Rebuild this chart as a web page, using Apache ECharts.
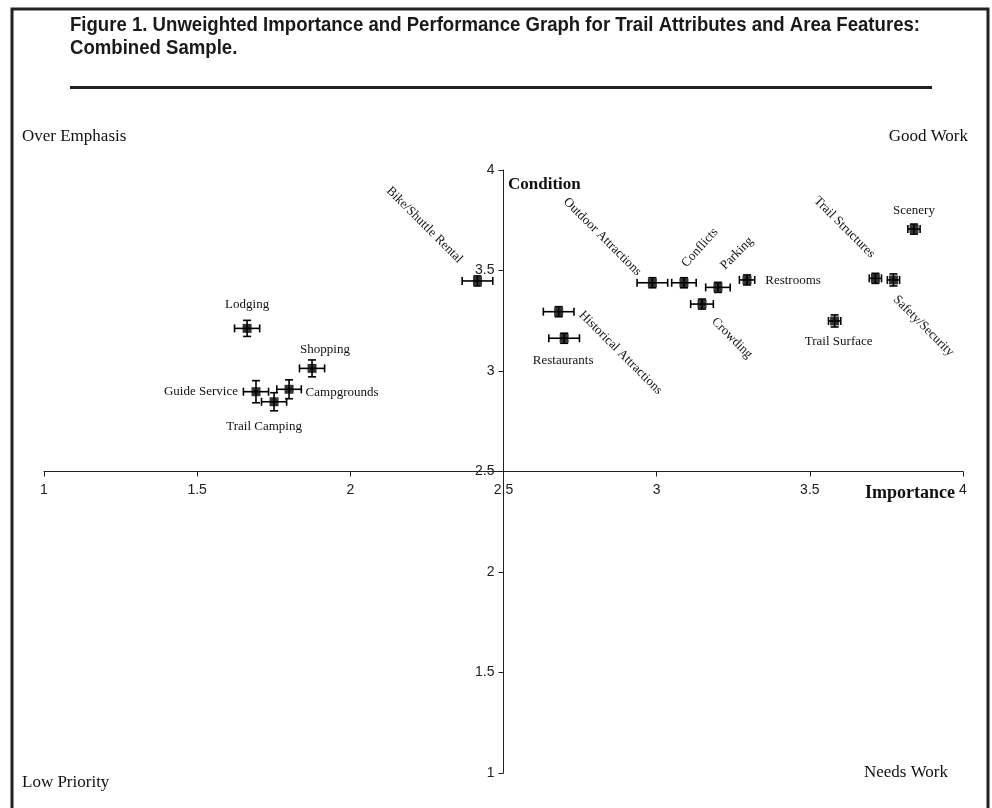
<!DOCTYPE html>
<html><head><meta charset="utf-8">
<script src="https://cdn.jsdelivr.net/npm/echarts@6/dist/echarts.min.js"></script>
<style>html,body{margin:0;padding:0;background:#fff}#c{width:992px;height:808px}</style>
</head><body><div id="c"></div>
<script>
// ---- data ----
const names = ['Lodging','Shopping','Guide Service','Campgrounds','Trail Camping','Bike/Shuttle Rental','Historical Attractions','Restaurants','Outdoor Attractions','Conflicts','Parking','Crowding','Restrooms','Trail Surface','Trail Structures','Safety/Security','Scenery'];
const importance    = [1.663,1.875,1.692,1.800,1.751,2.415,2.680,2.698,2.986,3.089,3.200,3.148,3.295,3.581,3.714,3.773,3.840];
const condition     = [3.212,3.013,2.897,2.909,2.847,3.448,3.295,3.163,3.439,3.439,3.416,3.333,3.453,3.249,3.461,3.453,3.706];
const importanceErr = [0.041,0.041,0.041,0.040,0.041,0.050,0.050,0.050,0.050,0.040,0.040,0.037,0.025,0.020,0.020,0.020,0.020];
const conditionErr  = [0.040,0.042,0.055,0.047,0.045,0.025,0.025,0.025,0.025,0.025,0.025,0.025,0.025,0.030,0.025,0.030,0.025];
const axisMin = 1, axisMax = 4, axisStep = 0.5;
const axisCross = 2.5; // both axes cross at 2.5
const titleLines = ['Figure 1. Unweighted Importance and Performance Graph for Trail Attributes and Area Features:', 'Combined Sample.'];
const quadrantLabels = ['Over Emphasis','Good Work','Low Priority','Needs Work'];
const xAxisName = 'Importance', yAxisName = 'Condition';

// ---- layout ----
const G = {left:44, right:29, top:170, bottom:35, W:992, H:808};
const gridW = G.W - G.left - G.right, gridH = G.H - G.top - G.bottom;
const frac = (axisCross - axisMin) / (axisMax - axisMin);
const yAxisOffset = -gridW * frac;        // move y axis right to x = axisCross
const xAxisOffset = -gridH * frac;        // move x axis up to y = axisCross

// label offsets from marker (px) and rotation (deg)
const labelLayout = [
  [0,-24,0],[13,-19,0],[-55,0,0],[53,3,0],[-10,25,0],
  [-53,-56,-45],[62,41,-45],[-1,22,0],[-50,-46,-45],
  [16,-35,48],[19,-34,45],[30,34,-45],[46,1,0],
  [4,21,0],[-31,-51,-45],[30,46,-45],[0,-19,0]
];

const pts = names.map((n,i)=>[importance[i], condition[i], importanceErr[i], conditionErr[i]]);
const serif = '"Liberation Serif","Times New Roman",serif';
const sans = '"Liberation Sans",Arial,sans-serif';
const titleFont = 'bold 20px "Liberation Sans",Arial,sans-serif';
const mctx = document.createElement('canvas').getContext('2d');
mctx.font = titleFont;
const titleScale = 850 / mctx.measureText(titleLines[0]).width;

const chart = echarts.init(document.getElementById('c'), null, {renderer:'canvas'});
chart.setOption({
  animation:false,
  backgroundColor:'#fff',
  grid:{left:G.left,right:G.right,top:G.top,bottom:G.bottom,containLabel:false},
  xAxis:{type:'value',min:axisMin,max:axisMax,interval:axisStep,offset:xAxisOffset,
    axisLine:{onZero:false,lineStyle:{color:'#222',width:1}},
    axisTick:{length:5,lineStyle:{color:'#222'}},
    axisLabel:{margin:12,fontFamily:sans,fontSize:14,color:'#222',showMinLabel:true,showMaxLabel:true},
    splitLine:{show:false}},
  yAxis:{type:'value',min:axisMin,max:axisMax,interval:axisStep,offset:yAxisOffset,
    axisLine:{show:true,onZero:false,lineStyle:{color:'#222',width:1}},
    axisTick:{show:true,length:5,lineStyle:{color:'#222'}},
    axisLabel:{margin:9,fontFamily:sans,fontSize:14,color:'#222',showMinLabel:true,showMaxLabel:true},
    splitLine:{show:false}},
  series:[
    {type:'custom',data:pts,encode:{x:0,y:1},z:2,
      renderItem:function(params,api){
        const x=api.value(0),y=api.value(1),ex=api.value(2),ey=api.value(3);
        const l=api.coord([x-ex,y]),r=api.coord([x+ex,y]),t=api.coord([x,y+ey]),b=api.coord([x,y-ey]);
        const cap=4,st={stroke:'#000',lineWidth:1.6};
        const ln=(x1,y1,x2,y2)=>({type:'line',shape:{x1,y1,x2,y2},style:st});
        return {type:'group',children:[
          ln(l[0],l[1],r[0],r[1]),ln(l[0],l[1]-cap,l[0],l[1]+cap),ln(r[0],r[1]-cap,r[0],r[1]+cap),
          ln(t[0],t[1],b[0],b[1]),ln(t[0]-cap,t[1],t[0]+cap,t[1]),ln(b[0]-cap,b[1],b[0]+cap,b[1])
        ]};
      }},
    {type:'scatter',data:pts.map(p=>[p[0],p[1]]),symbol:'rect',symbolSize:9,itemStyle:{color:'#000'},z:3},
    {type:'custom',data:pts.map(p=>[p[0],p[1]]),encode:{x:0,y:1},z:4,
      renderItem:function(params,api){
        const p=api.coord([api.value(0),api.value(1)]);
        const L=labelLayout[params.dataIndex];
        return {type:'text',x:p[0]+L[0],y:p[1]+L[1],rotation:L[2]*Math.PI/180,
          style:{text:names[params.dataIndex],fill:'#111',font:'13px '+serif,align:'center',verticalAlign:'middle'}};
      }}
  ],
  graphic:[
    {type:'rect',shape:{x:12,y:9,width:976,height:860},style:{fill:'none',stroke:'#222',lineWidth:3},silent:true},
    {type:'text',x:70,y:25,scaleX:titleScale,style:{text:titleLines[0],font:titleFont,fill:'#1a1a1a',verticalAlign:'middle'}},
    {type:'text',x:70,y:48,scaleX:titleScale,style:{text:titleLines[1],font:titleFont,fill:'#1a1a1a',verticalAlign:'middle'}},
    {type:'rect',shape:{x:70,y:86,width:862,height:3},style:{fill:'#222'}},
    {type:'text',x:22,y:137,style:{text:quadrantLabels[0],font:'17px '+serif,fill:'#111',verticalAlign:'middle'}},
    {type:'text',x:968,y:137,style:{text:quadrantLabels[1],font:'17px '+serif,fill:'#111',align:'right',verticalAlign:'middle'}},
    {type:'text',x:22,y:783,style:{text:quadrantLabels[2],font:'17px '+serif,fill:'#111',verticalAlign:'middle'}},
    {type:'text',x:948,y:773,style:{text:quadrantLabels[3],font:'17px '+serif,fill:'#111',align:'right',verticalAlign:'middle'}},
    {type:'text',x:508,y:185,style:{text:yAxisName,font:'bold 17px '+serif,fill:'#111',verticalAlign:'middle'}},
    {type:'text',x:955,y:493,style:{text:xAxisName,font:'bold 18px '+serif,fill:'#111',align:'right',verticalAlign:'middle'}}
  ]
});
</script></body></html>
